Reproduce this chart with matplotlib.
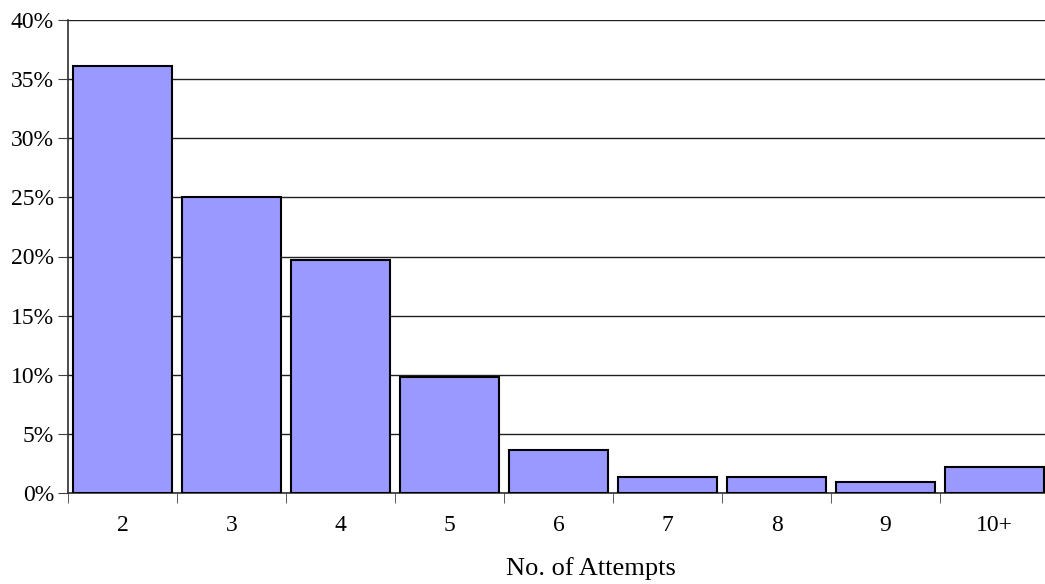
import numpy as np
import matplotlib
matplotlib.use("Agg")
import matplotlib.pyplot as plt
from matplotlib.ticker import FuncFormatter

# Datos
intentos = ["2", "3", "4", "5", "6", "7", "8", "9", "10+"]
porcentaje = [36.1, 25.0, 19.7, 9.8, 3.6, 1.35, 1.35, 0.9, 2.2]

plt.rcParams['font.family'] = ['Liberation Serif', 'DejaVu Serif']

fig = plt.figure(figsize=(10.45, 5.84), dpi=100)
# el eje se sale un poco por la derecha, como en el original
ax = fig.add_axes([68 / 1045, 91 / 584, 981 / 1045, 473 / 584])

x = np.arange(len(intentos))
ax.bar(x, porcentaje, width=0.91, color="#9999FF", edgecolor="black", linewidth=1.5, zorder=3)

ax.set_xlim(-0.5, len(intentos) - 0.5)
ax.set_ylim(0, 40)
ax.set_yticks(np.arange(0, 41, 5))
ax.yaxis.set_major_formatter(FuncFormatter(lambda v, p: "%d%%" % v))
ax.yaxis.grid(True, color="#202020", linewidth=1.0, zorder=0)

ax.set_xticks(x)
ax.set_xticklabels(intentos)
ax.set_xticks(np.arange(-0.5, len(intentos), 1), minor=True)
ax.tick_params(axis="x", which="major", length=0, pad=16, labelsize=17)
ax.tick_params(axis="x", which="minor", length=7, direction="out", color="#404040")
ax.tick_params(axis="y", length=7, direction="out", labelsize=17, color="#404040", pad=3)

for s in ["top", "right"]:
    ax.spines[s].set_visible(False)
ax.spines["left"].set_color("#303030")
ax.spines["bottom"].set_color("#303030")
ax.spines["left"].set_linewidth(1.2)
ax.spines["bottom"].set_linewidth(1.2)

# titulo del eje x
fig.text(591 / 1045, 1 - 569 / 584, "No. of Attempts", fontsize=19, ha="center", va="center")

fig.savefig("out.png", dpi=100)
plt.close()
